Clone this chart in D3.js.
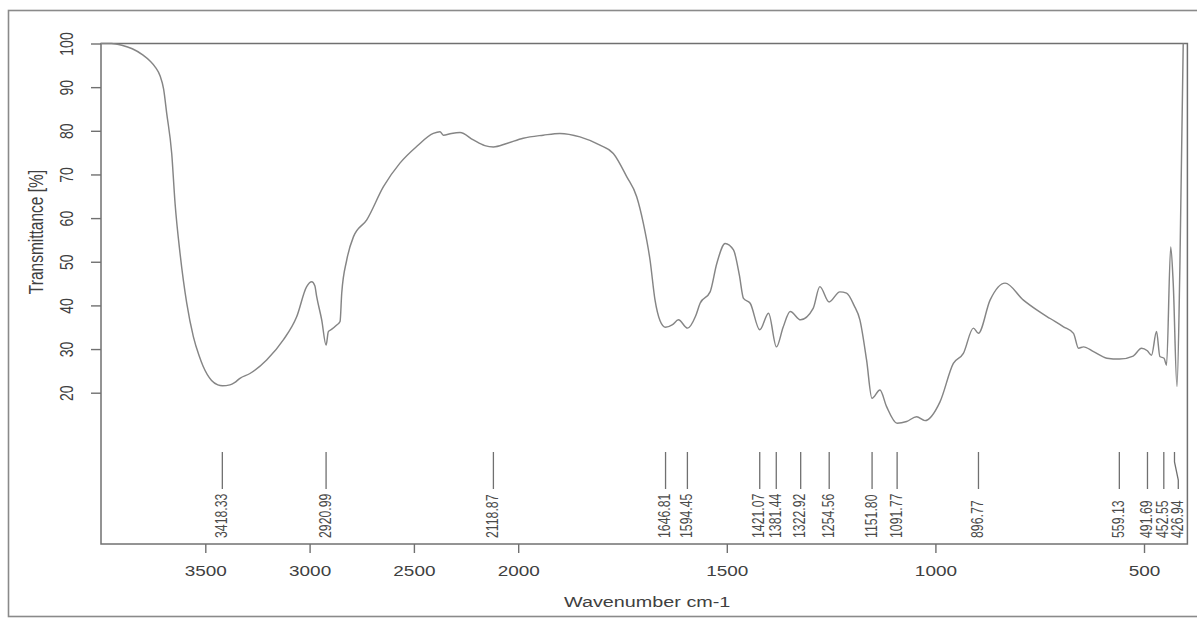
<!DOCTYPE html>
<html>
<head>
<meta charset="utf-8">
<script src="https://cdn.jsdelivr.net/npm/d3@7"></script>
<style>
  html, body { margin: 0; padding: 0; background: #ffffff; }
  svg { display: block; font-family: "Liberation Sans", Arial, sans-serif; }
</style>
</head>
<body>
<svg id="chart" width="1197" height="619"></svg>
<script>
// ---------------- data ----------------
const wavenumbers = [
  4000, 3950, 3900, 3850, 3800, 3765, 3740, 3717, 3700, 3685, 3661, 3645, 3621, 3589, 3557, 3530, 3510,
  3470, 3440, 3418, 3382, 3360, 3334, 3286, 3206, 3126, 3062, 3014, 2990, 2975, 2966, 2942, 2921,
  2910, 2895, 2870, 2854, 2846, 2822, 2790, 2726, 2646, 2567, 2487, 2407, 2375, 2359, 2320, 2279,
  2215, 2160, 2119, 2055, 1988, 1940, 1900, 1852, 1804, 1772, 1740, 1716, 1700, 1684, 1672, 1660,
  1647, 1630, 1616, 1594, 1575, 1564, 1540, 1524, 1504, 1484, 1470, 1460, 1444, 1421, 1400, 1381,
  1365, 1348, 1323, 1293, 1277, 1255, 1229, 1213, 1195, 1181, 1165, 1152, 1133, 1117, 1092, 1069,
  1045, 1025, 989, 957, 933, 909, 897, 869, 833, 789, 750, 725, 693, 669, 657, 645, 621, 589, 559,
  526, 506, 492, 482, 470, 462, 452, 446, 436, 430, 421, 414, 406
];
const transmittance = [
  100.0, 100.0, 99.6, 98.8, 97.4, 96.0, 94.6, 92.6, 89.6, 84.0, 74.8, 63.4, 51.9, 40.5, 32.8, 28.5, 26.0,
  22.8, 21.8, 21.6, 21.8, 22.3, 23.3, 24.4, 27.5, 32.1, 37.4, 44.3, 45.4, 44.5, 42.0, 36.7, 30.9,
  34.0, 34.5, 35.5, 36.3, 42.8, 50.4, 55.7, 59.6, 67.2, 72.6, 76.4, 79.4, 79.8, 79.0, 79.4, 79.6,
  77.9, 76.6, 76.3, 77.1, 78.3, 79.0, 79.4, 78.6, 76.7, 74.8, 69.5, 64.9, 58.8, 50.4, 41.2, 36.5,
  35.0, 35.6, 36.7, 34.8, 37.5, 40.5, 43.1, 49.6, 54.2, 52.7, 47.0, 41.6, 40.5, 34.4, 38.2, 30.5,
  35.0, 38.6, 36.7, 39.3, 44.3, 40.8, 43.1, 42.8, 40.0, 36.7, 27.5, 18.7, 20.6, 16.8, 13.0, 13.4,
  14.5, 13.6, 17.9, 26.7, 29.0, 34.8, 33.6, 41.2, 45.1, 41.2, 38.5, 37.0, 35.1, 33.6, 30.2, 30.5, 29.4, 27.9, 27.7,
  28.4, 30.2, 29.6, 28.6, 34.0, 28.3, 27.9, 26.3, 53.4, 45.1, 21.4, 48.9, 100.0
];
const peakValues = [3418.33, 2920.99, 2118.87, 1646.81, 1594.45, 1421.07, 1381.44, 1322.92,
  1254.56, 1151.80, 1091.77, 896.77, 559.13, 491.69, 452.55, 426.94];
const peakLabels = ["3418.33", "2920.99", "2118.87", "1646.81", "1594.45", "1421.07", "1381.44", "1322.92",
  "1254.56", "1151.80", "1091.77", "896.77", "559.13", "491.69", "452.55", "426.94"];
const xTicks = [3500, 3000, 2500, 2000, 1500, 1000, 500];
const yTicks = [20, 30, 40, 50, 60, 70, 80, 90, 100];
const xTitle = "Wavenumber cm-1";
const yTitle = "Transmittance [%]";

// ---------------- layout ----------------
const pLeft = 101, pRight = 1187.4, pTop = 43.5, pBottom = 544;
const svg = d3.select("#chart");

// wavenumber axis: expanded 2x below 2000 cm-1
const x = d3.scaleLinear().domain([4000, 2000, 396]).range([pLeft, 518.2, pRight]);
const y = d3.scaleLinear().domain([-14.66, 100]).range([pBottom, pTop]);

const HS = 1.28; // horizontal stretch of the original picture's glyphs

// outer frame
svg.append("rect")
  .attr("x", 8.5).attr("y", 10.5).attr("width", 1197).attr("height", 606)
  .attr("fill", "none").attr("stroke", "#8a8a8a").attr("stroke-width", 1.6);

// plot box
svg.append("rect")
  .attr("x", pLeft).attr("y", pTop).attr("width", pRight - pLeft).attr("height", pBottom - pTop)
  .attr("fill", "none").attr("stroke", "#707070").attr("stroke-width", 1.5);

// x axis
const gx = svg.append("g").attr("transform", `translate(0,${pBottom})`)
  .call(d3.axisBottom(x).tickValues(xTicks).tickSize(9).tickPadding(12).tickFormat(d3.format("d")));
gx.select(".domain").remove();
gx.selectAll(".tick line").attr("stroke", "#707070").attr("stroke-width", 1.4);
gx.selectAll(".tick text")
  .attr("fill", "#404040").attr("font-size", 14.8)
  .attr("font-family", "Liberation Sans, Arial, sans-serif")
  .attr("transform", `scale(${HS},1)`);

// y axis
const gy = svg.append("g").attr("transform", `translate(${pLeft},0)`)
  .call(d3.axisLeft(y).tickValues(yTicks).tickSize(10));
gy.select(".domain").remove();
gy.selectAll(".tick line").attr("stroke", "#707070").attr("stroke-width", 1.4);
gy.selectAll(".tick text")
  .attr("fill", "#404040").attr("font-size", 14)
  .attr("font-family", "Liberation Sans, Arial, sans-serif")
  .attr("text-anchor", "middle")
  .attr("x", 0).attr("dy", null)
  .attr("y", -21.5)
  .attr("transform", `rotate(-90) scale(1,${HS})`);

// titles
svg.append("text")
  .attr("transform", `translate(${(pLeft + pRight) / 2 + 3},607) scale(${HS + 0.04},1)`)
  .attr("text-anchor", "middle").attr("font-size", 15).attr("fill", "#404040")
  .text(xTitle);
svg.append("text")
  .attr("transform", `translate(43,232) rotate(-90) scale(1,${HS})`)
  .attr("text-anchor", "middle").attr("font-size", 15.5).attr("fill", "#404040")
  .text(yTitle);

// spectrum
const pts = wavenumbers.map((w, i) => [w, transmittance[i]]);
svg.append("path")
  .datum(pts)
  .attr("fill", "none").attr("stroke", "#858585").attr("stroke-width", 1.45)
  .attr("stroke-linejoin", "round")
  .attr("d", d3.line().x(d => x(d[0])).y(d => y(d[1])).curve(d3.curveMonotoneX));

// peak markers
const labelShift = { "426.94": 3.8 };
const gp = svg.append("g");
peakValues.forEach((p, i) => {
  const px = x(p);
  const lx = px + (labelShift[peakLabels[i]] || 0);
  gp.append("path")
    .attr("d", lx === px ? `M${px},452V489` : `M${px},452V462L${lx},480V489`)
    .attr("fill", "none").attr("stroke", "#707070").attr("stroke-width", 1.3);
  gp.append("text")
    .attr("transform", `translate(${lx + 4.5},538) rotate(-90) scale(1,${HS})`)
    .attr("text-anchor", "start").attr("font-size", 12.3).attr("fill", "#4a4a4a")
    .text(peakLabels[i]);
});
</script>
</body>
</html>
